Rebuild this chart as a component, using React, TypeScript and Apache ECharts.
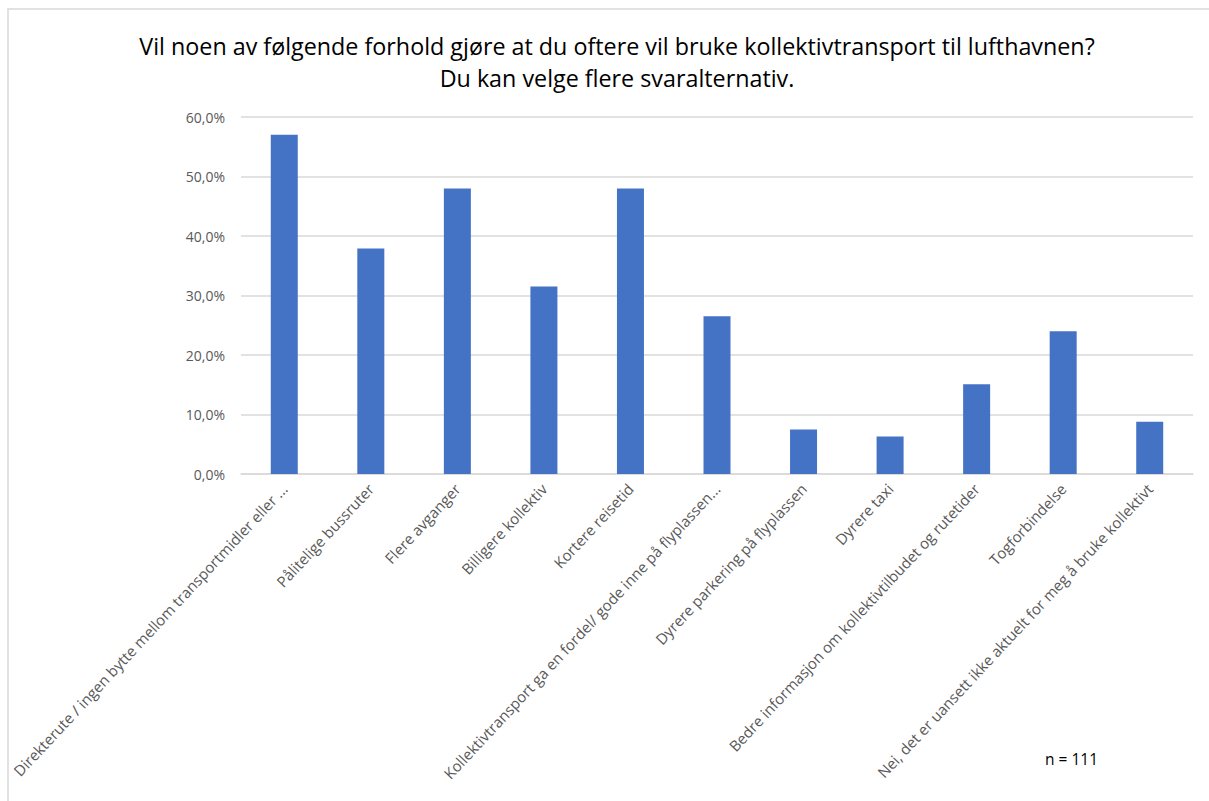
import React, { useEffect, useRef } from "react";
import * as echarts from "echarts";

const categories: string[] = [
  "Direkterute / ingen bytte mellom transportmidler eller ...",
  "Pålitelige bussruter",
  "Flere avganger",
  "Billigere kollektiv",
  "Kortere reisetid",
  "Kollektivtransport ga en fordel/ gode inne på flyplassen...",
  "Dyrere parkering på flyplassen",
  "Dyrere taxi",
  "Bedre informasjon om kollektivtilbudet og rutetider",
  "Togforbindelse",
  "Nei, det er uansett ikke aktuelt for meg å bruke kollektivt",
];

const values: number[] = [57.0, 37.9, 48.0, 31.5, 48.0, 26.5, 7.5, 6.3, 15.1, 24.0, 8.8];

const titleLines: string[] = [
  "Vil noen av følgende forhold gjøre at du oftere vil bruke kollektivtransport til lufthavnen?",
  "Du kan velge flere svaralternativ.",
];

const noteText = "n = 111";

const FONT = "'Open Sans', 'Noto Sans', sans-serif";

export default function App() {
  const ref = useRef<HTMLDivElement>(null);

  useEffect(() => {
    if (!ref.current) return;
    const chart = echarts.init(ref.current, undefined, { renderer: "svg" });
    chart.setOption({
      animation: false,
      backgroundColor: "#ffffff",
      title: {
        text: titleLines.join("\n"),
        left: 612,
        textAlign: "center",
        top: 25,
        textStyle: {
          fontFamily: FONT,
          fontSize: 23.3,
          fontWeight: "normal",
          color: "#000000",
          lineHeight: 32,
        },
      },
      grid: { left: 241, right: 16, top: 117, bottom: 327 },
      xAxis: {
        type: "category",
        data: categories,
        axisLine: { lineStyle: { color: "#d9d9d9", width: 1.5 } },
        axisTick: { show: false },
        axisLabel: {
          interval: 0,
          rotate: 47,
          margin: 12,
          color: "#595959",
          fontFamily: FONT,
          fontSize: 15,
        },
      },
      yAxis: {
        type: "value",
        min: 0,
        max: 60,
        interval: 10,
        axisLine: { show: false },
        axisTick: { show: false },
        splitLine: { lineStyle: { color: "#d9d9d9", width: 1.5 } },
        axisLabel: {
          margin: 16,
          color: "#595959",
          fontFamily: FONT,
          fontSize: 14,
          formatter: (v: number) => v.toFixed(1).replace(".", ",") + "%",
        },
      },
      series: [
        {
          type: "bar",
          data: values,
          barWidth: 27,
          itemStyle: { color: "#4472C4" },
        },
      ],
      graphic: [
        {
          type: "rect",
          shape: { x: 8, y: 9, width: 1240, height: 820 },
          style: { fill: "none", stroke: "#d9d9d9", lineWidth: 1.5 },
          silent: true,
        },
        {
          type: "text",
          left: 1045,
          top: 751,
          style: {
            text: noteText,
            fontFamily: FONT,
            fontSize: 15.5,
            fill: "#000000",
          },
        },
      ],
    });
    return () => chart.dispose();
  }, []);

  return (
    <div
      ref={ref}
      style={{ position: "absolute", left: 0, top: 0, width: 1209, height: 801 }}
    />
  );
}
